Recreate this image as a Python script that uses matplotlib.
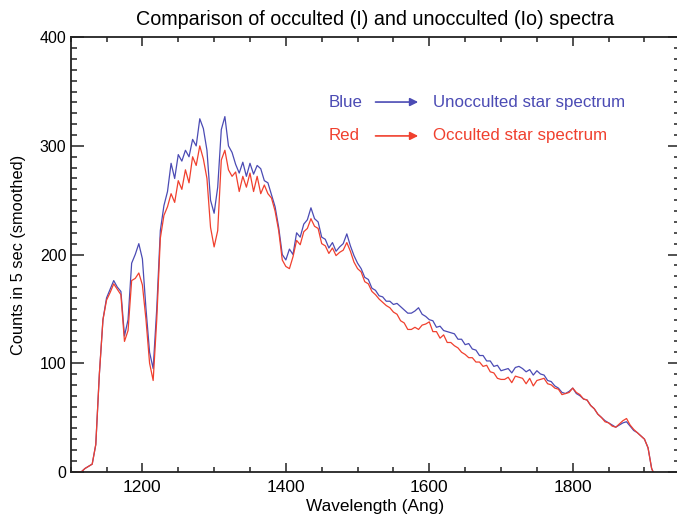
import numpy as np
import matplotlib
matplotlib.use("Agg")
import matplotlib.pyplot as plt
from matplotlib.ticker import MultipleLocator

plt.rcParams['font.family'] = ['Liberation Sans', 'DejaVu Sans']

title = "Comparison of occulted (I) and unocculted (Io) spectra"
xlabel = "Wavelength (Ang)"
ylabel = "Counts in 5 sec (smoothed)"

wavelength = [
    1110, 1115, 1120, 1125, 1130, 1135, 1140, 1145, 1150, 1155, 1160, 1165, 1170, 1175, 1180,
    1185, 1190, 1195, 1200, 1205, 1210, 1215, 1220, 1225, 1230, 1235, 1240, 1245, 1250, 1255,
    1260, 1265, 1270, 1275, 1280, 1285, 1290, 1295, 1300, 1305, 1310, 1315, 1320, 1325, 1330,
    1335, 1340, 1345, 1350, 1355, 1360, 1365, 1370, 1375, 1380, 1385, 1390, 1395, 1400, 1405,
    1410, 1415, 1420, 1425, 1430, 1435, 1440, 1445, 1450, 1455, 1460, 1465, 1470, 1475, 1480,
    1485, 1490, 1495, 1500, 1505, 1510, 1515, 1520, 1525, 1530, 1535, 1540, 1545, 1550, 1555,
    1560, 1565, 1570, 1575, 1580, 1585, 1590, 1595, 1600, 1605, 1610, 1615, 1620, 1625, 1630,
    1635, 1640, 1645, 1650, 1655, 1660, 1665, 1670, 1675, 1680, 1685, 1690, 1695, 1700, 1705,
    1710, 1715, 1720, 1725, 1730, 1735, 1740, 1745, 1750, 1755, 1760, 1765, 1770, 1775, 1780,
    1785, 1790, 1795, 1800, 1805, 1810, 1815, 1820, 1825, 1830, 1835, 1840, 1845, 1850, 1855,
    1860, 1865, 1870, 1875, 1880, 1885, 1890, 1895, 1900, 1905, 1910, 1912]

unocculted = [
    0, 0, 3, 5, 7, 25, 90, 140, 160, 168, 176, 170, 166, 125, 140,
    192, 200, 210, 196, 150, 110, 95, 150, 222, 245, 258, 284, 270, 292, 286,
    296, 290, 306, 300, 325, 316, 296, 250, 238, 262, 315, 327, 300, 294, 283,
    275, 285, 272, 284, 274, 282, 279, 268, 266, 255, 244, 225, 200, 195, 205,
    200, 220, 216, 228, 232, 243, 233, 230, 216, 214, 206, 211, 203, 207, 210,
    219, 208, 199, 192, 187, 179, 177, 169, 167, 162, 161, 157, 157, 154, 155,
    152, 149, 146, 146, 148, 151, 145, 143, 140, 139, 133, 134, 130, 129, 128,
    127, 122, 122, 117, 118, 113, 112, 107, 107, 102, 102, 97, 98, 93, 94,
    95, 91, 96, 97, 95, 92, 94, 89, 93, 90, 89, 84, 83, 79, 77,
    73, 72, 74, 77, 72, 70, 67, 66, 61, 58, 53, 50, 47, 45, 43,
    41, 43, 45, 46, 42, 38, 36, 33, 30, 22, 3, 0]

occulted = [
    0, 0, 3, 5, 7, 25, 90, 140, 158, 165, 173, 168, 163, 120, 130,
    176, 178, 183, 172, 140, 100, 84, 140, 215, 236, 244, 256, 248, 268, 260,
    278, 266, 290, 282, 300, 288, 270, 225, 207, 222, 287, 296, 278, 272, 276,
    258, 272, 262, 275, 258, 272, 256, 264, 256, 252, 240, 222, 195, 189, 187,
    198, 213, 209, 221, 224, 233, 226, 224, 210, 208, 201, 206, 199, 202, 204,
    211, 203, 193, 187, 184, 175, 173, 166, 163, 159, 156, 153, 151, 147, 145,
    139, 137, 131, 131, 133, 131, 135, 136, 138, 129, 129, 123, 126, 119, 119,
    116, 114, 110, 108, 105, 105, 101, 101, 97, 98, 92, 91, 86, 85, 85,
    87, 82, 88, 87, 86, 81, 86, 79, 84, 85, 86, 81, 80, 77, 76,
    71, 72, 73, 77, 73, 71, 67, 66, 61, 58, 53, 50, 46, 45, 42,
    41, 44, 47, 49, 43, 39, 36, 33, 30, 22, 3, 0]

legend_rows = [("Blue", "Unocculted star spectrum", "#4b4bb4"),
               ("Red", "Occulted star spectrum", "#f0402e")]

fig = plt.figure(figsize=(6.77, 5.16), dpi=100)
ax = fig.add_axes([0.1044, 0.0858, 0.9005, 0.8419])

ax.plot(wavelength, unocculted, color="#4b4bb4", lw=0.9)
ax.plot(wavelength, occulted, color="#f0402e", lw=0.9)

ax.set_xlim(1100, 1950)
ax.set_ylim(0, 400)
ax.xaxis.set_major_locator(MultipleLocator(200))
ax.xaxis.set_minor_locator(MultipleLocator(50))
ax.yaxis.set_major_locator(MultipleLocator(100))
ax.yaxis.set_minor_locator(MultipleLocator(10))
ax.tick_params(which='both', direction='in', top=True, right=True,
               width=1.1, color='#222222')
ax.tick_params(axis='x', which='major', length=6.5, pad=6, labelsize=12.5)
ax.tick_params(axis='x', which='minor', length=3.6)
ax.tick_params(axis='y', which='major', length=9, pad=3, labelsize=11.5)
ax.tick_params(axis='y', which='minor', length=4.3)
for s in ax.spines.values():
    s.set_linewidth(1.3)
    s.set_color('#222222')

ax.set_title(title, fontsize=14.2, pad=9)
ax.set_xlabel(xlabel, fontsize=12.4, labelpad=3)
ax.set_ylabel(ylabel, fontsize=11.8, labelpad=10)

for i, (name, desc, col) in enumerate(legend_rows):
    yy = 0.851 - i * 0.078
    ax.text(0.423, yy, name, color=col, fontsize=12.2, transform=ax.transAxes,
            va='center', ha='left')
    ax.annotate("", xy=(0.570, yy), xytext=(0.500, yy), xycoords='axes fraction',
                arrowprops=dict(arrowstyle='-|>', color=col, lw=1.2,
                                mutation_scale=12, shrinkA=0, shrinkB=0))
    ax.text(0.594, yy, desc, color=col, fontsize=12.2, transform=ax.transAxes,
            va='center', ha='left')

fig.savefig("out.png", dpi=100)
